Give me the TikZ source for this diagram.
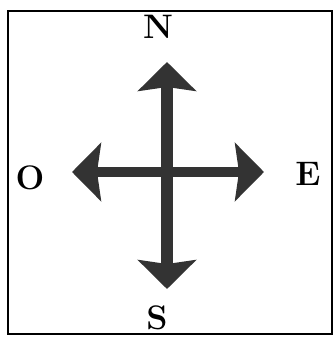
\documentclass[tikz,border=0pt]{standalone}
\usepackage{fontspec}
\usetikzlibrary{arrows.meta}
\begin{document}
\begin{tikzpicture}[x=1pt,y=-1pt,
  frame/.style={draw=black,line width=2.2pt},
  compass/.style={draw=black!80,line width=#1,
    arrows={Stealth[length=29pt,width=58pt,inset=4pt,fill=black!80]-Stealth[length=29pt,width=58pt,inset=4pt,fill=black!80]}},
  lbl/.style={font=\fontsize{34}{34}\selectfont\bfseries,inner sep=0pt}]
\useasboundingbox (0,0) rectangle (334,338);
\fill[white] (0,0) rectangle (334,338);
\draw[frame] (8,11) rectangle (332,334);
\coordinate (ntip) at (167,62);
\coordinate (stip) at (167,289);
\coordinate (wtip) at (72,172);
\coordinate (etip) at (264,172);
\draw[compass=10pt] (wtip) -- (etip);
\draw[compass=12pt] (ntip) -- (stip);
\node[lbl] (N) at (158,27) {N};
\node[lbl] (S) at (157,318) {S};
\node[lbl] (O) at (30,178) {O};
\node[lbl] (E) at (308,174) {E};
\end{tikzpicture}
\end{document}
